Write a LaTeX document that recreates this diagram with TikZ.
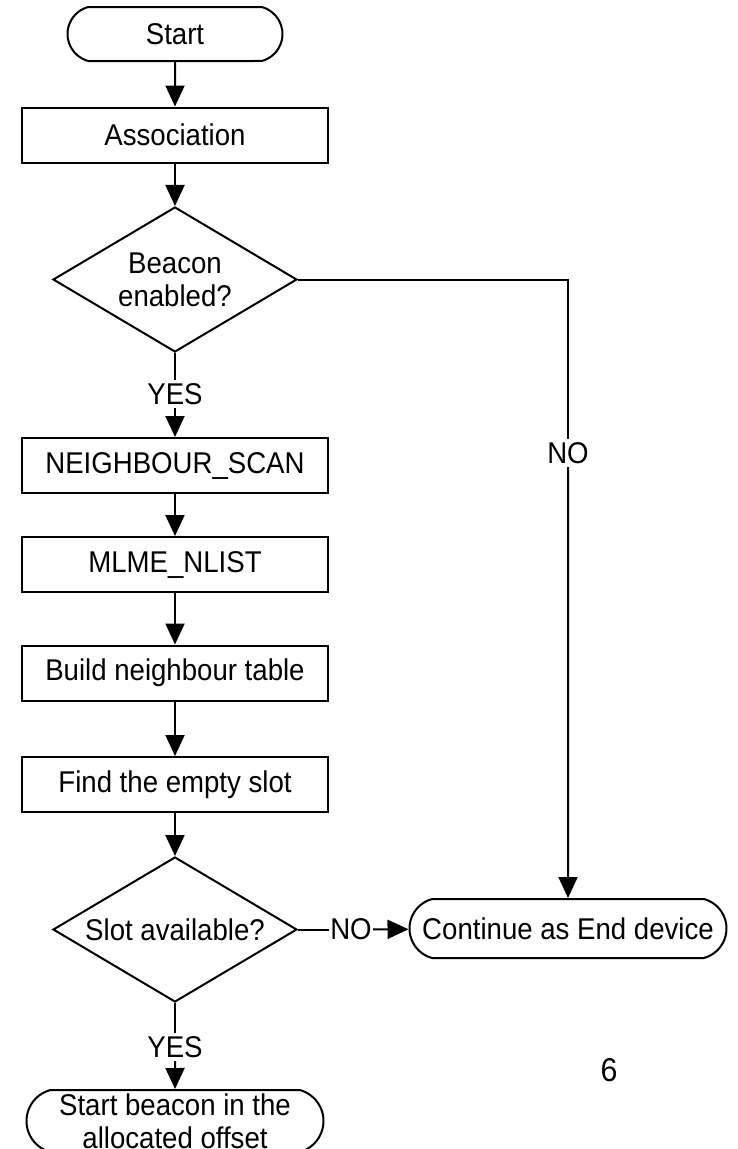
\documentclass[tikz,border=0pt]{standalone}
\usepackage{fontspec}
\setmainfont[FakeStretch=0.92]{Liberation Sans}
\usetikzlibrary{shapes.geometric,shapes.misc,arrows.meta,backgrounds}
\tikzset{
  base/.style={draw=black, line width=2pt, font=\fontsize{30pt}{33pt}\selectfont, align=center, inner sep=2pt},
  procbox/.style={base, rectangle, minimum width=306pt, minimum height=55pt},
  termbox/.style={base, rounded rectangle, rounded rectangle arc length=150},
  decbox/.style={base, diamond, aspect=1.68, minimum width=244pt, minimum height=145pt, inner sep=0pt},
  lbl/.style={font=\fontsize{30pt}{33pt}\selectfont, fill=white, inner sep=3pt, minimum height=28pt},
  conn/.style={line width=2pt},
  arr/.style={line width=2pt, -{Triangle[length=21pt,width=19pt]}}
}
\begin{document}
\begin{tikzpicture}[x=1pt,y=-1pt]
\useasboundingbox (0,0) rectangle (737,1149);
\clip (0,0) rectangle (737,1149);

\node[termbox, minimum width=219pt, minimum height=54pt] (start) at (175,34) {Start};
\node[procbox] (assoc) at (175,135) {Association};
\node[decbox] (beacon) at (175,279.5) {Beacon\\enabled?};
\node[lbl] (yes1) at (175,394) {YES};
\node[procbox] (neigh) at (175,465.5) {NEIGHBOUR\_SCAN};
\node[procbox] (mlme) at (175,564.5) {MLME\_NLIST};
\node[procbox] (build) at (175,673) {Build neighbour table};
\node[procbox] (find) at (175,784.5) {Find the empty slot};
\node[decbox] (slot) at (175,929.5) {Slot available?};
\node[lbl, inner sep=1pt] (no2) at (351,929.5) {NO};
\node[termbox, minimum width=321pt, minimum height=59pt] (cont) at (568,928.5) {Continue as End device};
\node[lbl] (no1) at (568,453) {NO};
\node[lbl] (yes2) at (175,1047) {YES};
\coordinate (corner) at (568,279.5);
\node[termbox, minimum width=297pt, minimum height=62pt, inner sep=0pt] (sbeacon) at (175,1121) {Start beacon in the\\allocated offset};
\node[font=\fontsize{33pt}{36pt}\selectfont, inner sep=0pt] (six) at (609,1070) {6};

\begin{scope}[on background layer]
\fill[white] (0,0) rectangle (737,1149);
\draw[arr] (start) -- (assoc);
\draw[arr] (assoc) -- (beacon);
\draw[conn] (beacon) -- (yes1);
\draw[arr] (yes1) -- (neigh);
\draw[arr] (neigh) -- (mlme);
\draw[arr] (mlme) -- (build);
\draw[arr] (build) -- (find);
\draw[arr] (find) -- (slot);
\draw[conn] (beacon.east) -- (corner) -- (no1);
\draw[arr] (no1) -- (cont);
\draw[conn] (slot) -- (no2);
\draw[arr] (no2) -- (cont);
\draw[conn] (slot) -- (yes2);
\draw[arr] (yes2) -- (sbeacon);
\end{scope}
\end{tikzpicture}
\end{document}
